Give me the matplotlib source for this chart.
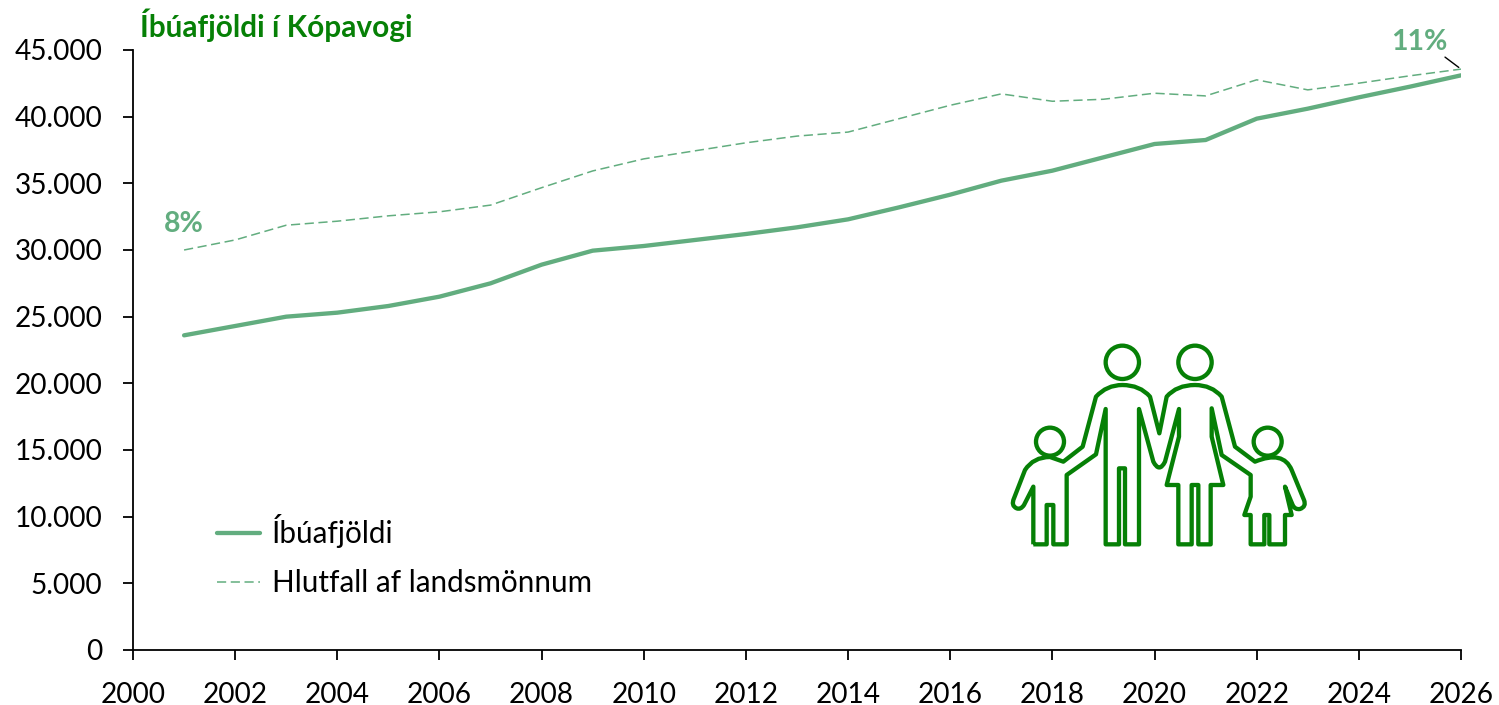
# Ibuafjoldi i Kopavogi, lina og hlutfall af landsmonnum
import numpy as np
import matplotlib.pyplot as plt
from matplotlib.path import Path
from matplotlib.patches import PathPatch, Circle
from matplotlib.ticker import FuncFormatter

plt.rcParams['font.family'] = ['Lato', 'DejaVu Sans']

GREEN = '#62AD7F'
DARK = '#068006'

years = list(range(2001, 2027))
ibuar = [23600, 24300, 25000, 25300, 25800, 26500, 27500, 28900, 29950, 30300,
         30750, 31200, 31700, 32300, 33200, 34150, 35200, 35950, 36950, 37950,
         38250, 39850, 40600, 41450, 42250, 43100]
hlutfall = [8.30, 8.45, 8.67, 8.73, 8.81, 8.87, 8.97, 9.23, 9.48, 9.66,
            9.78, 9.90, 10.00, 10.06, 10.26, 10.46, 10.63, 10.52, 10.55, 10.64,
            10.60, 10.84, 10.69, 10.79, 10.90, 11.00]
yticks = list(range(0, 45001, 5000))
xticks = list(range(2000, 2027, 2))

W, H = 1499, 705
fig = plt.figure(figsize=(W / 100, H / 100), dpi=100)
ax = fig.add_axes([133 / W, 1 - 650 / H, (1461 - 133) / W, 600 / H])

ln1, = ax.plot(years, ibuar, color=GREEN, lw=3.1, solid_capstyle='round', label='Íbúafjöldi')
ax.set_xlim(2000, 2026)
ax.set_ylim(0, 45000)
ax.set_xticks(xticks)
ax.set_yticks(yticks)
ax.yaxis.set_major_formatter(FuncFormatter(lambda v, p: f'{int(v):,}'.replace(',', '.')))
ax.tick_params(axis='both', labelsize=20.2, length=7, width=1.3, color='black')
ax.tick_params(axis='y', pad=15)
ax.tick_params(axis='x', pad=16)
for s in ['top', 'right']:
    ax.spines[s].set_visible(False)
for s in ['left', 'bottom']:
    ax.spines[s].set_linewidth(1.3)

# seinni as, falinn
ax2 = ax.twinx()
ax2.set_ylim(8.3 - 400 / 67, 8.3 + 200 / 67)
ax2.axis('off')
ln2, = ax2.plot(years, hlutfall, color=GREEN, lw=1.1, dashes=(6, 3), label='Hlutfall af landsmönnum')

ax2.annotate('8%', xy=(years[0], hlutfall[0]), xytext=(0, 26), textcoords='offset pixels',
             ha='center', va='center', color=GREEN, fontsize=20.5, fontweight='bold')
ax2.annotate('11%', xy=(years[-1], hlutfall[-1]), xytext=(-42, 27), textcoords='offset pixels',
             ha='center', va='center', color=GREEN, fontsize=20.5, fontweight='bold')
ax2.annotate('', xy=(years[-1], hlutfall[-1]), xytext=(-16, 12), textcoords='offset pixels',
             arrowprops=dict(arrowstyle='-', color='black', lw=1, shrinkA=0, shrinkB=2))

fig.text(140 / W, 1 - 25 / H, 'Íbúafjöldi í Kópavogi', color=DARK, fontsize=21.4,
         fontweight='bold', ha='left', va='center')

ax.legend([ln1, ln2], ['Íbúafjöldi', 'Hlutfall af landsmönnum'], loc='lower left',
          bbox_to_anchor=(0.0633, 0.088), frameon=False, fontsize=21.3, handlelength=1.45,
          handletextpad=0.4, labelspacing=0.72, borderpad=0, borderaxespad=0)

# fjolskyldumyndin, hnit i pixlum ur klippu
icon = fig.add_axes([1000 / W, 1 - 555 / H, 320 / W, 220 / H])
icon.set_xlim(0, 960)
icon.set_ylim(660, 0)
icon.axis('off')
M, L, C = Path.MOVETO, Path.LINETO, Path.CURVE3
outline = [
    (M, 100, 628), (L, 100, 455), (L, 72, 510), (C, 62, 525), (C, 50, 520),
    (C, 32, 512), (C, 42, 490),
    (L, 75, 405), (C, 100, 366), (C, 150, 366), (L, 190, 380), (L, 248, 335),
    (L, 288, 185), (C, 320, 150), (C, 367, 150), (C, 420, 150), (C, 450, 185),
    (L, 478, 295), (L, 500, 185), (C, 530, 150), (C, 585, 150), (C, 635, 150),
    (C, 665, 185), (L, 705, 335), (L, 765, 380), (C, 850, 345), (C, 875, 405),
    (L, 912, 495), (C, 920, 515), (C, 900, 522), (C, 885, 525), (C, 878, 510),
    (L, 855, 455), (L, 875, 540),
    (L, 855, 540), (L, 855, 628), (L, 808, 628), (L, 808, 540), (L, 793, 540),
    (L, 793, 628), (L, 752, 628), (L, 752, 540), (L, 733, 540), (L, 752, 485),
    (L, 752, 420), (L, 665, 360), (L, 635, 220), (L, 635, 305), (L, 670, 450),
    (L, 632, 450), (L, 632, 628), (L, 595, 628), (L, 595, 450), (L, 575, 450),
    (L, 575, 628), (L, 535, 628), (L, 535, 450), (L, 500, 450), (L, 537, 305),
    (L, 537, 222), (L, 495, 380), (C, 478, 415), (C, 460, 380), (L, 417, 222),
    (L, 417, 628), (L, 375, 628), (L, 375, 400), (L, 357, 400), (L, 357, 628),
    (L, 317, 628), (L, 317, 222), (L, 288, 358), (L, 200, 420), (L, 200, 628),
    (L, 160, 628), (L, 160, 510), (L, 140, 510), (L, 140, 628), (L, 100, 628),
]
codes = [p[0] for p in outline]
verts = [(p[1], p[2]) for p in outline]
icon.add_patch(PathPatch(Path(verts, codes), fc='none', ec=DARK, lw=3.1, joinstyle='round'))
for cx, cy, r in [(367, 82, 50), (585, 82, 50), (150, 320, 42), (803, 320, 42)]:
    icon.add_patch(Circle((cx, cy), r, fc='none', ec=DARK, lw=3.1))

fig.savefig('out.png', dpi=100)
